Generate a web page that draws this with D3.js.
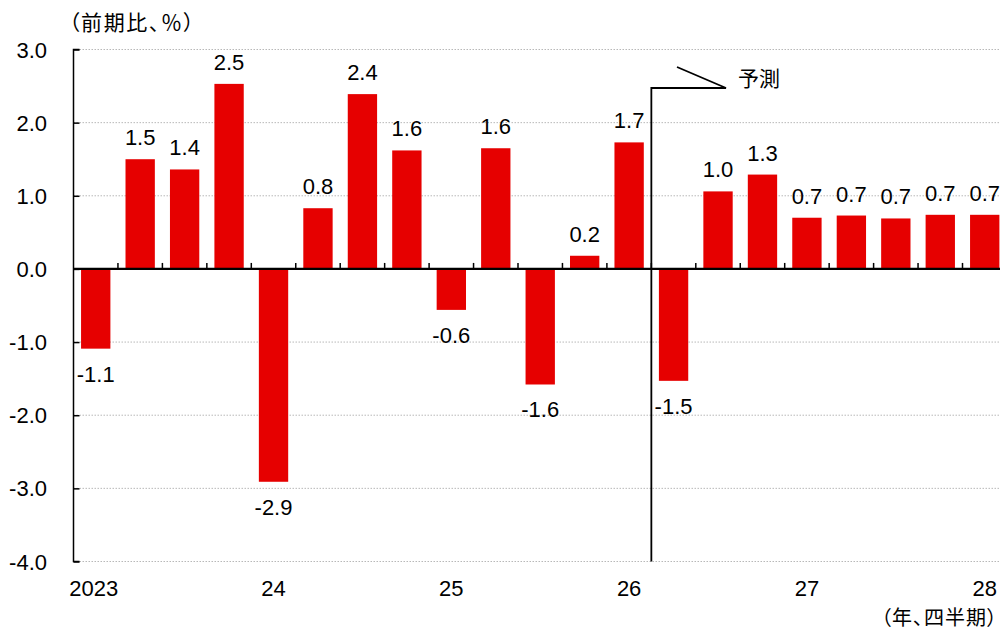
<!DOCTYPE html>
<html>
<head>
<meta charset="utf-8">
<script src="https://cdn.jsdelivr.net/npm/d3@7"></script>
<style>
  html, body { margin: 0; padding: 0; background: #fff; }
  svg { display: block; font-family: "Liberation Sans", Arial, sans-serif; }
  .jp { font-family: "Noto Sans CJK JP", sans-serif; font-feature-settings: "palt"; }
</style>
</head>
<body>
<svg id="chart" width="1000" height="631"></svg>
<script>
'use strict';

// quarters 2023Q1 .. 2028Q1
const quarters = ['2023Q1','2023Q2','2023Q3','2023Q4','2024Q1','2024Q2','2024Q3','2024Q4',
  '2025Q1','2025Q2','2025Q3','2025Q4','2026Q1','2026Q2','2026Q3','2026Q4',
  '2027Q1','2027Q2','2027Q3','2027Q4','2028Q1'];
const values = [-1.09, 1.50, 1.36, 2.53, -2.91, 0.83, 2.39, 1.62, -0.56, 1.65, -1.58, 0.18,
  1.73, -1.53, 1.06, 1.29, 0.70, 0.73, 0.69, 0.74, 0.74];
const labels = ['-1.1','1.5','1.4','2.5','-2.9','0.8','2.4','1.6','-0.6','1.6','-1.6','0.2',
  '1.7','-1.5','1.0','1.3','0.7','0.7','0.7','0.7','0.7'];
const yearLabels = {'2023Q1': '2023', '2024Q1': '24', '2025Q1': '25', '2026Q1': '26', '2027Q1': '27', '2028Q1': '28'};
const yTicks = [3, 2, 1, 0, -1, -2, -3, -4];
const forecastStart = '2026Q2';

const svg = d3.select('#chart');
const plotLeft = 73.5, plotRight = 73.5 + 21 * 44.45;
const plotTop = 49.5, plotBottom = 561.5;

const x = d3.scaleBand().domain(quarters).range([plotLeft, plotRight]).paddingInner(0.34).paddingOuter(0.17);
const y = d3.scaleLinear().domain([-4, 3]).range([plotBottom, plotTop]);

// gridlines
svg.append('g')
  .selectAll('line')
  .data(yTicks.filter(d => d !== 0))
  .join('line')
  .attr('x1', plotLeft).attr('x2', 1000)
  .attr('y1', d => y(d)).attr('y2', d => y(d))
  .attr('stroke', '#b8b8b8')
  .attr('stroke-width', 1)
  .attr('stroke-dasharray', '1.5,1.5');

// bars
svg.append('g')
  .selectAll('rect')
  .data(values)
  .join('rect')
  .attr('x', (d, i) => x(quarters[i]))
  .attr('width', x.bandwidth())
  .attr('y', d => y(Math.max(0, d)))
  .attr('height', d => Math.abs(y(d) - y(0)))
  .attr('fill', '#e60000');

// bar labels
svg.append('g')
  .selectAll('text')
  .data(values)
  .join('text')
  .attr('x', (d, i) => x(quarters[i]) + x.bandwidth() / 2)
  .attr('y', d => d >= 0 ? y(d) - 14 : y(d) + 33)
  .attr('text-anchor', 'middle')
  .attr('font-size', 22)
  .attr('fill', '#000')
  .text((d, i) => labels[i]);

// y axis
const yAxis = d3.axisRight(y).tickValues(yTicks).tickSize(6).tickFormat('');
const ya = svg.append('g').attr('transform', `translate(${plotLeft},0)`).call(yAxis);
ya.select('.domain').attr('d', `M6,${plotTop}H0V${plotBottom}H6`).attr('stroke', '#000').attr('stroke-width', 1.5);
ya.selectAll('.tick line').attr('stroke', '#000').attr('stroke-width', 1.5);

svg.append('g')
  .selectAll('text')
  .data(yTicks)
  .join('text')
  .attr('x', 47)
  .attr('y', d => y(d) + 8)
  .attr('text-anchor', 'end')
  .attr('font-size', 22)
  .text(d => d.toFixed(1));

// zero line with quarter ticks
const step = x.step();
const boundaries = d3.range(1, quarters.length).map(i => plotLeft + i * step);
svg.append('line')
  .attr('x1', plotLeft).attr('x2', 1000)
  .attr('y1', y(0)).attr('y2', y(0))
  .attr('stroke', '#000').attr('stroke-width', 2.2);
svg.append('g')
  .selectAll('line')
  .data(boundaries)
  .join('line')
  .attr('x1', d => d).attr('x2', d => d)
  .attr('y1', y(0)).attr('y2', y(0) - 6)
  .attr('stroke', '#000').attr('stroke-width', 1.5);

// year labels
svg.append('g')
  .selectAll('text')
  .data(quarters.filter(q => yearLabels[q]))
  .join('text')
  .attr('x', q => x(q) + x.bandwidth() / 2 - (q === '2023Q1' ? 2 : 0))
  .attr('y', 596)
  .attr('text-anchor', 'middle')
  .attr('font-size', 22)
  .text(q => yearLabels[q]);

// forecast marker
const fx = x(forecastStart) - (step - x.bandwidth()) / 2;
svg.append('path')
  .attr('d', `M${fx},${plotBottom}V88H726L677,67`)
  .attr('fill', 'none')
  .attr('stroke', '#000')
  .attr('stroke-width', 1.8);
svg.append('text')
  .attr('class', 'jp')
  .attr('x', 738).attr('y', 86)
  .attr('font-size', 21)
  .text('予測');

// axis titles
svg.append('text')
  .attr('class', 'jp')
  .attr('x', 69).attr('y', 30)
  .attr('font-size', 21)
  .attr('letter-spacing', 1.6)
  .text('（前期比、％）');
svg.append('text')
  .attr('class', 'jp')
  .attr('x', 998).attr('y', 625)
  .attr('text-anchor', 'end')
  .attr('font-size', 20)
  .attr('letter-spacing', 1)
  .text('（年、四半期）');
</script>
</body>
</html>
